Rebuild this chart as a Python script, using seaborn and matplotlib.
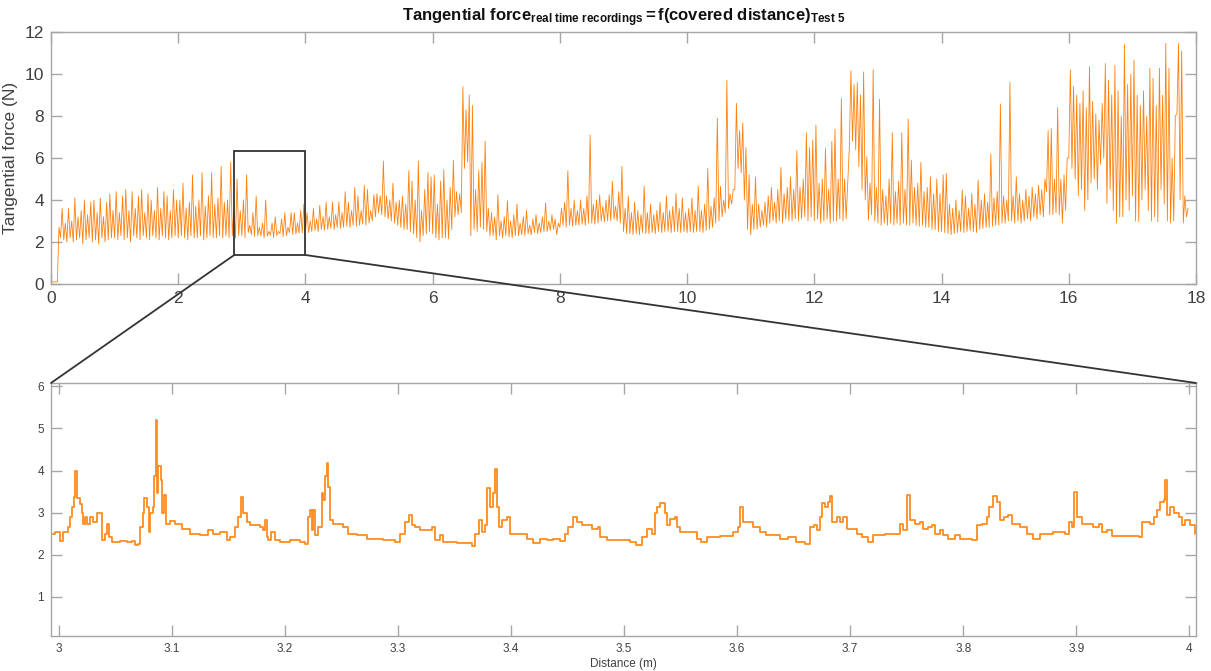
import numpy as np
import pandas as pd
import matplotlib
matplotlib.use("Agg")
import matplotlib.pyplot as plt
import seaborn as sns
from matplotlib.patches import Rectangle, ConnectionPatch

# ---------------- data ----------------
# Top panel: envelope of the real-time recording, one low/high pair per 0.05 m bin (0.00 ... 17.85 m)
bin_step = 0.05
force_low = [
    0.1, 0.1, 0.1, 2.2, 2.1, 2.0, 2.2, 2.0, 2.1, 2.2, 1.9, 2.1, 2.2, 2.0, 2.1, 1.9, 2.2, 2.0, 2.1, 2.2,
    2.2, 2.1, 2.3, 2.1, 2.2, 2.0, 2.3, 2.2, 2.1, 2.3, 2.2, 2.1, 2.3, 2.2, 2.1, 2.3, 2.2, 2.1, 2.2, 2.3,
    2.2, 2.3, 2.2, 2.1, 2.3, 2.2, 2.2, 2.3, 2.1, 2.2, 2.3, 2.2, 2.2, 2.3, 2.2, 2.3, 2.2, 2.3, 2.2, 2.3,
    2.3, 2.2, 2.45, 2.35, 2.26, 2.3, 2.3, 2.2, 2.28, 2.32, 2.22, 2.3, 2.4, 2.26, 2.3, 2.45, 2.36, 2.38, 2.43, 2.43,
    2.5, 2.45, 2.5, 2.55, 2.5, 2.6, 2.55, 2.6, 2.65, 2.6, 2.7, 2.65, 2.7, 2.75, 2.7, 2.8, 2.75, 2.8, 2.85, 2.8,
    2.9, 3.0, 3.2, 3.4, 3.3, 3.2, 3.1, 3.0, 2.9, 2.8, 2.7, 2.6, 2.6, 2.5, 2.4, 2.2, 2.0, 2.3, 2.4, 2.5,
    2.4, 2.2, 2.1, 2.2, 2.2, 2.15, 2.6, 3.2, 3.3, 3.4, 5.5, 5.8, 2.3, 2.6, 2.5, 2.7, 2.6, 2.5, 2.3, 2.3,
    2.1, 2.3, 2.2, 2.3, 2.25, 2.2, 2.3, 2.3, 2.35, 2.3, 2.4, 2.35, 2.45, 2.4, 2.45, 2.5, 2.5, 2.55, 2.6, 2.35,
    2.7, 2.8, 2.7, 2.8, 2.75, 2.8, 2.8, 2.85, 2.8, 2.9, 2.9, 2.85, 2.9, 3.0, 2.95, 3.0, 3.0, 3.1, 3.0, 2.9,
    2.5, 2.4, 2.4, 2.35, 2.4, 2.35, 2.45, 2.4, 2.4, 2.45, 2.4, 2.5, 2.45, 2.5, 2.5, 2.45, 2.5, 2.5, 2.45, 2.5,
    2.45, 2.5, 2.45, 2.5, 2.5, 2.45, 2.55, 2.6, 2.7, 2.9, 3.0, 3.2, 3.4, 3.6, 3.8, 4.5, 5.5, 5.3, 4.0, 2.6,
    2.35, 2.6, 2.6, 2.7, 2.8, 2.7, 2.9, 3.0, 2.9, 3.0, 2.9, 3.1, 3.0, 3.0, 3.1, 3.0, 3.1, 3.2, 3.0, 3.2,
    3.0, 3.1, 2.9, 3.0, 3.1, 2.9, 3.0, 3.0, 3.1, 3.0, 3.1, 6.5, 6.8, 6.4, 5.6, 4.5, 4.0, 3.05, 3.3, 3.0,
    2.9, 2.8, 2.9, 2.8, 2.9, 2.8, 2.9, 2.8, 2.9, 2.8, 2.8, 2.9, 2.8, 2.75, 2.8, 2.7, 2.7, 2.6, 2.6, 2.5,
    2.5, 2.45, 2.4, 2.35, 2.4, 2.45, 2.5, 2.45, 2.5, 2.55, 2.5, 2.45, 2.6, 2.65, 2.7, 2.7, 2.75, 2.8, 2.8, 2.9,
    2.9, 3.0, 3.0, 2.9, 3.0, 2.9, 3.0, 3.1, 3.0, 3.2, 3.1, 3.3, 3.2, 4.4, 3.3, 3.3, 3.4, 3.3, 2.9, 3.5,
    6.0, 5.5, 5.0, 4.2, 4.5, 3.5, 4.0, 4.8, 5.0, 4.5, 5.7, 6.0, 3.84, 4.5, 3.5, 2.9, 3.2, 3.2, 4.0, 3.5,
    4.2, 3.0, 2.97, 4.0, 4.5, 3.5, 3.0, 3.2, 2.97, 4.5, 3.8, 3.0, 2.9, 3.0, 8.1, 4.0, 2.9, 3.2,
]
force_high = [
    0.1, 0.1, 2.7, 3.6, 2.9, 3.6, 3.0, 4.1, 3.2, 3.5, 4.0, 3.3, 3.9, 4.0, 3.4, 4.1, 3.2, 3.9, 4.3, 3.5,
    4.4, 3.4, 4.2, 4.5, 3.5, 4.4, 3.6, 4.2, 4.5, 3.4, 4.3, 4.0, 3.5, 4.6, 3.6, 4.4, 4.2, 3.5, 4.5, 4.0,
    4.0, 4.8, 3.6, 3.9, 5.2, 3.7, 4.0, 5.3, 3.7, 4.2, 5.3, 3.8, 4.1, 5.6, 3.9, 4.0, 5.8, 3.6, 5.0, 3.5,
    4.0, 5.2, 2.8, 3.4, 4.2, 2.7, 2.9, 4.0, 2.5, 2.9, 3.2, 2.5, 3.1, 3.4, 2.7, 3.4, 3.4, 2.9, 3.5, 3.8,
    3.4, 3.0, 3.6, 3.1, 3.75, 3.2, 3.9, 3.2, 3.9, 3.3, 3.9, 3.4, 4.4, 3.9, 3.5, 4.6, 4.2, 3.5, 4.7, 4.5,
    3.5, 4.25, 4.3, 4.2, 5.85, 4.2, 4.0, 4.8, 3.9, 4.0, 4.2, 3.8, 5.4, 4.9, 4.0, 5.85, 3.5, 4.5, 5.3, 5.1,
    5.2, 3.8, 4.9, 5.45, 4.0, 4.6, 5.9, 4.4, 4.3, 9.4, 8.3, 9.0, 8.5, 4.5, 5.4, 5.8, 6.8, 3.6, 3.4, 3.2,
    4.25, 3.0, 3.2, 3.97, 3.0, 3.3, 3.8, 2.9, 3.2, 3.5, 2.8, 3.1, 3.3, 2.9, 3.2, 3.86, 3.0, 3.3, 3.1, 2.9,
    3.6, 3.9, 5.4, 3.6, 4.0, 3.5, 4.0, 3.6, 4.2, 7.1, 3.8, 4.0, 4.25, 3.7, 4.0, 4.25, 4.9, 3.7, 4.4, 5.6,
    3.6, 4.2, 3.4, 3.9, 3.5, 3.3, 4.65, 3.4, 3.8, 3.3, 3.5, 3.9, 3.4, 4.2, 3.5, 3.7, 4.3, 3.6, 4.1, 3.4,
    3.6, 4.1, 3.5, 4.65, 3.5, 3.8, 5.5, 3.7, 4.1, 7.9, 4.65, 4.0, 9.7, 4.3, 4.5, 8.6, 7.3, 7.67, 6.5, 5.2,
    3.8, 5.1, 3.8, 3.5, 3.9, 4.2, 4.6, 3.9, 4.5, 5.55, 4.3, 4.6, 5.1, 4.5, 6.35, 4.6, 5.0, 7.2, 6.5, 6.86,
    7.57, 4.8, 5.0, 6.46, 4.5, 6.78, 7.37, 5.0, 8.84, 5.0, 4.8, 10.16, 9.5, 9.6, 9.0, 10.1, 6.06, 4.8, 10.2, 4.6,
    8.8, 4.5, 4.2, 5.0, 7.2, 4.4, 4.9, 7.2, 4.5, 7.86, 5.9, 4.6, 4.8, 5.8, 4.4, 4.6, 5.1, 4.3, 5.0, 4.3,
    5.2, 5.27, 3.8, 3.6, 4.0, 3.5, 4.48, 4.2, 3.6, 4.3, 3.8, 4.95, 4.0, 4.3, 3.9, 6.2, 4.1, 4.4, 8.57, 4.2,
    4.0, 9.6, 4.2, 5.1, 4.3, 4.0, 4.5, 4.2, 4.6, 4.3, 4.7, 4.5, 5.0, 7.3, 7.4, 5.0, 8.4, 5.0, 5.2, 6.0,
    10.2, 9.4, 9.0, 8.6, 9.2, 8.4, 10.35, 8.7, 8.1, 7.8, 8.6, 10.5, 9.7, 9.0, 10.4, 9.2, 8.0, 11.4, 9.5, 10.0,
    10.67, 9.0, 8.5, 9.2, 8.0, 10.27, 9.8, 8.5, 10.27, 9.0, 11.46, 10.27, 6.0, 8.0, 11.46, 11.1, 4.2, 3.6,
]

# Bottom panel: detail of the recording between 2.99 m and 4.01 m (step-wise trace)
zoom_dist = [
    2.993, 2.9965, 3.001, 3.004, 3.008, 3.010, 3.012, 3.013, 3.0145, 3.016, 3.0186, 3.020, 3.0215, 3.023,
    3.025, 3.0274, 3.030, 3.0333, 3.0378, 3.0407, 3.0428, 3.0445, 3.0466, 3.054, 3.060, 3.0643, 3.0673,
    3.070, 3.0717, 3.074, 3.0755, 3.0776, 3.0794, 3.0805, 3.0835, 3.0844, 3.0855, 3.0867, 3.088, 3.090,
    3.0914, 3.093, 3.0944, 3.098, 3.1027, 3.1086, 3.116, 3.1248, 3.132, 3.1366, 3.1425, 3.1484, 3.1513,
    3.1558, 3.1587, 3.1608, 3.163, 3.166, 3.169, 3.178, 3.1808, 3.1823, 3.1838, 3.1853, 3.188, 3.191,
    3.1956, 3.2044, 3.2133, 3.2177, 3.2206, 3.2221, 3.2236, 3.225, 3.2265, 3.2295, 3.2324, 3.234, 3.2354,
    3.2369, 3.2383, 3.2398, 3.2428, 3.2516, 3.256, 3.2634, 3.2723, 3.2796, 3.287, 3.2973,
    3.302, 3.3063, 3.3093, 3.3122, 3.3152, 3.3196, 3.3299, 3.3328, 3.3373, 3.3402, 3.352, 3.3652, 3.3682,
    3.372, 3.374, 3.377, 3.379, 3.3814, 3.3838, 3.3858, 3.3873, 3.3897, 3.3918, 3.3962, 3.3991, 3.4138,
    3.4197, 3.4256, 3.4315, 3.4374, 3.4433, 3.4477, 3.4507, 3.4551, 3.458, 3.4624, 3.4713, 3.4772, 3.4786,
    3.4845, 3.4993, 3.5052, 3.511, 3.5155, 3.5199, 3.5243, 3.5272, 3.5287, 3.5317, 3.5361, 3.5376, 3.5405,
    3.5449, 3.5464, 3.5493, 3.5641, 3.5685, 3.573, 3.5847, 3.5965, 3.6009, 3.6024, 3.6053, 3.6142, 3.62,
    3.6259, 3.6377, 3.6451, 3.6524, 3.6598,
    3.6646, 3.6676, 3.6705, 3.6735, 3.6755, 3.6779, 3.68, 3.6823, 3.6844, 3.6882, 3.6912, 3.6941, 3.697,
    3.7059, 3.7103, 3.7162, 3.7206, 3.731, 3.7413, 3.7442, 3.7472, 3.7507, 3.7531, 3.7575, 3.7619, 3.7649,
    3.7693, 3.7723, 3.7752, 3.7796, 3.7826, 3.787, 3.7929, 3.7973, 3.8077, 3.8121, 3.8165, 3.8209, 3.8233,
    3.8268, 3.8298, 3.8327, 3.8357, 3.8401, 3.8431, 3.8504, 3.8563, 3.8622, 3.8681, 3.8799, 3.8903, 3.8932,
    3.8962, 3.8982, 3.9006, 3.905, 3.9153, 3.9198, 3.9227, 3.9271, 3.9316, 3.9552, 3.9581, 3.9655, 3.9684,
    3.9714, 3.9743, 3.9773, 3.9788, 3.9802, 3.9832, 3.9861, 3.9906, 3.9935, 3.9965, 4.001, 4.0053,
]
zoom_force = [
    2.50, 2.54, 2.33, 2.53, 2.66, 2.90, 3.14, 3.38, 4.00, 3.35, 3.20, 2.98, 2.74, 2.90,
    2.74, 2.90, 2.78, 2.98, 2.34, 2.50, 2.74, 2.42, 2.30, 2.32, 2.30, 2.32, 2.22,
    2.26, 2.66, 2.98, 3.34, 3.14, 2.54, 2.98, 3.14, 3.86, 5.20, 3.46, 4.10, 3.78,
    3.00, 3.42, 2.74, 2.80, 2.74, 2.62, 2.50, 2.46, 2.58, 2.50, 2.54, 2.34, 2.42,
    2.66, 2.90, 3.38, 2.98, 2.78, 2.70, 2.66, 2.58, 2.82, 2.42, 2.34, 2.54, 2.34,
    2.30, 2.34, 2.30, 2.26, 2.90, 3.06, 2.58, 3.06, 2.46, 2.66, 3.46, 3.30, 3.86,
    4.18, 3.60, 2.82, 2.74, 2.66, 2.50, 2.46, 2.38, 2.38, 2.34, 2.30,
    2.50, 2.78, 2.94, 2.70, 2.66, 2.58, 2.66, 2.34, 2.46, 2.30, 2.28, 2.20, 2.50,
    2.82, 2.54, 2.70, 3.58, 3.14, 3.46, 4.03, 3.14, 2.66, 2.82, 2.90, 2.50, 2.38,
    2.28, 2.38, 2.34, 2.38, 2.32, 2.50, 2.66, 2.90, 2.78, 2.70, 2.62, 2.66, 2.42,
    2.34, 2.36, 2.30, 2.22, 2.42, 2.60, 2.50, 2.98, 3.14, 3.24, 2.98, 2.70, 2.86,
    2.90, 2.66, 2.54, 2.38, 2.30, 2.42, 2.44, 2.54, 2.66, 3.14, 2.78, 2.66, 2.54,
    2.46, 2.38, 2.42, 2.30, 2.26,
    2.66, 2.70, 2.58, 2.90, 3.22, 3.14, 3.26, 3.39, 2.78, 2.90, 2.78, 2.90, 2.62,
    2.50, 2.42, 2.30, 2.46, 2.50, 2.50, 2.72, 2.58, 3.42, 2.82, 2.74, 2.78, 2.62,
    2.66, 2.70, 2.50, 2.58, 2.46, 2.38, 2.46, 2.38, 2.36, 2.70, 2.74, 2.90, 3.14,
    3.40, 3.26, 2.82, 2.90, 2.94, 2.74, 2.66, 2.50, 2.38, 2.50, 2.54, 2.50, 2.78,
    2.66, 3.50, 2.90, 2.74, 2.66, 2.74, 2.54, 2.58, 2.44, 2.43, 2.78, 2.74, 2.90,
    3.06, 3.26, 3.30, 3.78, 2.94, 3.14, 3.00, 2.90, 2.70, 2.82, 2.70, 2.50,
]

top_xticks = [0, 2, 4, 6, 8, 10, 12, 14, 16, 18]
top_yticks = [0, 2, 4, 6, 8, 10, 12]
zoom_xticks = [3.0, 3.1, 3.2, 3.3, 3.4, 3.5, 3.6, 3.7, 3.8, 3.9, 4.0]
zoom_xticklabels = ["3", "3.1", "3.2", "3.3", "3.4", "3.5", "3.6", "3.7", "3.8", "3.9", "4"]
zoom_yticks = [1, 2, 3, 4, 5, 6]

# zoom window drawn on the overview (distance range, force range)
zoom_box_x = (2.88, 4.0)
zoom_box_y = (1.38, 6.35)

# ---------------- build plotting tables ----------------
bin_start = np.arange(len(force_low)) * bin_step
top_x = np.column_stack([bin_start, bin_start + bin_step / 2]).ravel()
top_y = np.column_stack([force_low, force_high]).ravel()
top_df = pd.DataFrame({"distance": top_x, "force": top_y})
zoom_df = pd.DataFrame({"distance": zoom_dist, "force": zoom_force})

# ---------------- style ----------------
sns.set_theme(style="white")
plt.rcParams["font.family"] = ["Liberation Sans", "DejaVu Sans"]
plt.rcParams["mathtext.fontset"] = "custom"
plt.rcParams["mathtext.rm"] = "Liberation Sans"
plt.rcParams["mathtext.bf"] = "Liberation Sans:bold"
plt.rcParams["mathtext.it"] = "Liberation Sans:italic"

spine_col = "#a6a6a6"
text_col = "#404040"
line_col = "#ff7a00"

fig = plt.figure(figsize=(12.11, 6.71), dpi=100)
ax_top = fig.add_axes([51 / 1211, 1 - 284 / 671, (1196 - 51) / 1211, (284 - 32) / 671])
ax_bot = fig.add_axes([51 / 1211, 1 - 636 / 671, (1196 - 51) / 1211, (636 - 383) / 671])

sns.lineplot(data=top_df, x="distance", y="force", ax=ax_top, sort=False, estimator=None,
             color=line_col, linewidth=0.6, alpha=0.95)
sns.lineplot(data=zoom_df, x="distance", y="force", ax=ax_bot, sort=False, estimator=None,
             color="#ff8c1f", linewidth=1.3, drawstyle="steps-post")

for ax in (ax_top, ax_bot):
    for s in ax.spines.values():
        s.set_visible(True)
        s.set_color(spine_col)
        s.set_linewidth(1.0)
    ax.grid(False)

ax_top.set_xlim(0, 18)
ax_top.set_ylim(0, 12)
ax_top.set_xticks(top_xticks)
ax_top.set_yticks(top_yticks)
ax_top.tick_params(direction="in", length=8, width=1, color=spine_col, labelcolor=text_col,
                   labelsize=12.5, top=True, right=True, bottom=True, left=True, pad=5)
ax_top.set_xlabel("")
ax_top.set_ylabel("Tangential force (N)", fontsize=12.5, color=text_col)
ax_top.yaxis.set_label_coords(-0.0285, 0.5)
ax_top.set_title(r"$\mathbf{Tangential\ force}_{\mathbf{real\ time\ recordings}}"
                 r"\mathbf{=f(covered\ distance)}_{\mathbf{Test\ 5}}$",
                 fontsize=12, color="#111111", pad=8)

ax_bot.set_xlim(2.993, 4.006)
ax_bot.set_ylim(0.07, 6.08)
ax_bot.set_xticks(zoom_xticks)
ax_bot.set_xticklabels(zoom_xticklabels)
ax_bot.set_yticks(zoom_yticks)
ax_bot.tick_params(direction="in", length=8, width=1, color=spine_col, labelcolor=text_col,
                   labelsize=8.5, top=True, right=True, bottom=True, left=True, pad=5)
ax_bot.set_xlabel("Distance (m)", fontsize=8.5, color=text_col, labelpad=2)
ax_bot.set_ylabel("")

# zoom window and connectors
rect = Rectangle((zoom_box_x[0], zoom_box_y[0]), zoom_box_x[1] - zoom_box_x[0],
                 zoom_box_y[1] - zoom_box_y[0], fill=False, edgecolor="#333333", linewidth=1.3,
                 zorder=5)
ax_top.add_patch(rect)
for xa, xb in ((zoom_box_x[0], 0.0), (zoom_box_x[1], 1.0)):
    con = ConnectionPatch(xyA=(xa, zoom_box_y[0]), coordsA=ax_top.transData,
                          xyB=(xb, 1.0), coordsB=ax_bot.transAxes,
                          color="#333333", linewidth=1.3)
    fig.add_artist(con)

fig.savefig("out.png", dpi=100)
